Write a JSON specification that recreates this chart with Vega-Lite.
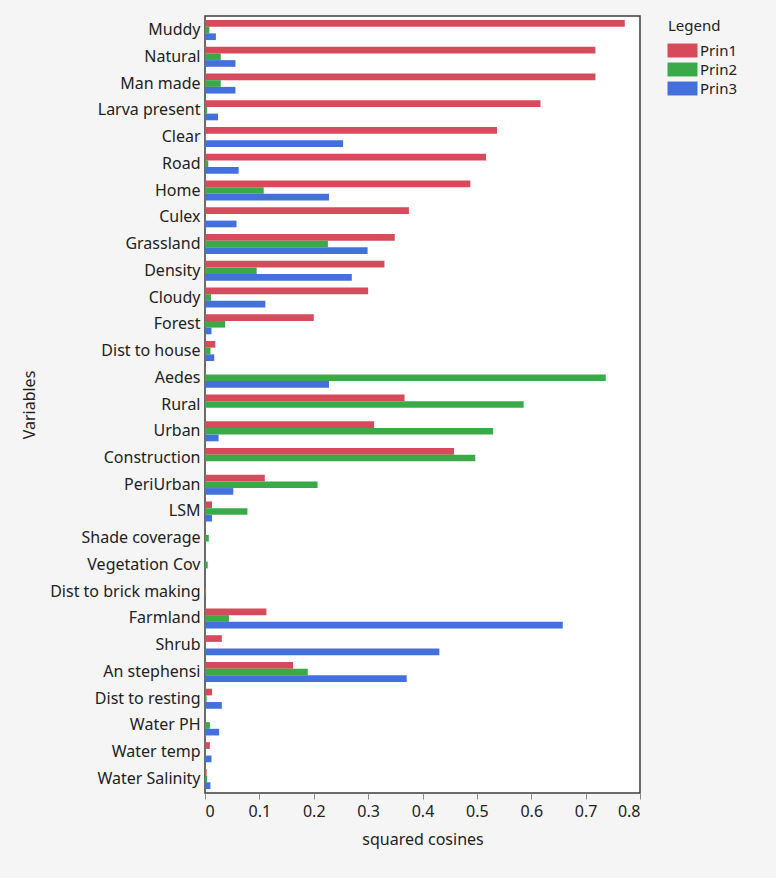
{
  "$schema": "https://vega.github.io/schema/vega-lite/v6.json",
  "autosize": {"type": "none"},
  "width": 435,
  "height": 777,
  "padding": {"left": 205, "top": 16, "right": 136, "bottom": 85},
  "background": "#f5f5f5",
  "config": {
    "font": "Noto Sans",
    "view": {"fill": "white", "stroke": "#3c3c3c", "strokeWidth": 1.5},
    "axis": {"grid": false, "labelColor": "#222", "titleColor": "#222", "labelFontSize": 16, "titleFontSize": 16, "titleFontWeight": "normal", "domainColor": "#3c3c3c"}
  },
  "data": {
    "values": [
      {"var": "Muddy", "comp": "Prin1", "value": 0.772}, {"var": "Muddy", "comp": "Prin2", "value": 0.008}, {"var": "Muddy", "comp": "Prin3", "value": 0.02},
      {"var": "Natural", "comp": "Prin1", "value": 0.718}, {"var": "Natural", "comp": "Prin2", "value": 0.029}, {"var": "Natural", "comp": "Prin3", "value": 0.056},
      {"var": "Man made", "comp": "Prin1", "value": 0.718}, {"var": "Man made", "comp": "Prin2", "value": 0.029}, {"var": "Man made", "comp": "Prin3", "value": 0.056},
      {"var": "Larva present", "comp": "Prin1", "value": 0.617}, {"var": "Larva present", "comp": "Prin2", "value": 0.004}, {"var": "Larva present", "comp": "Prin3", "value": 0.024},
      {"var": "Clear", "comp": "Prin1", "value": 0.537}, {"var": "Clear", "comp": "Prin2", "value": 0.002}, {"var": "Clear", "comp": "Prin3", "value": 0.254},
      {"var": "Road", "comp": "Prin1", "value": 0.517}, {"var": "Road", "comp": "Prin2", "value": 0.006}, {"var": "Road", "comp": "Prin3", "value": 0.062},
      {"var": "Home", "comp": "Prin1", "value": 0.488}, {"var": "Home", "comp": "Prin2", "value": 0.108}, {"var": "Home", "comp": "Prin3", "value": 0.228},
      {"var": "Culex", "comp": "Prin1", "value": 0.375}, {"var": "Culex", "comp": "Prin2", "value": 0.0}, {"var": "Culex", "comp": "Prin3", "value": 0.058},
      {"var": "Grassland", "comp": "Prin1", "value": 0.349}, {"var": "Grassland", "comp": "Prin2", "value": 0.226}, {"var": "Grassland", "comp": "Prin3", "value": 0.299},
      {"var": "Density", "comp": "Prin1", "value": 0.33}, {"var": "Density", "comp": "Prin2", "value": 0.095}, {"var": "Density", "comp": "Prin3", "value": 0.27},
      {"var": "Cloudy", "comp": "Prin1", "value": 0.3}, {"var": "Cloudy", "comp": "Prin2", "value": 0.011}, {"var": "Cloudy", "comp": "Prin3", "value": 0.111},
      {"var": "Forest", "comp": "Prin1", "value": 0.2}, {"var": "Forest", "comp": "Prin2", "value": 0.037}, {"var": "Forest", "comp": "Prin3", "value": 0.012},
      {"var": "Dist to house", "comp": "Prin1", "value": 0.019}, {"var": "Dist to house", "comp": "Prin2", "value": 0.01}, {"var": "Dist to house", "comp": "Prin3", "value": 0.017},
      {"var": "Aedes", "comp": "Prin1", "value": 0.001}, {"var": "Aedes", "comp": "Prin2", "value": 0.737}, {"var": "Aedes", "comp": "Prin3", "value": 0.228},
      {"var": "Rural", "comp": "Prin1", "value": 0.367}, {"var": "Rural", "comp": "Prin2", "value": 0.586}, {"var": "Rural", "comp": "Prin3", "value": 0.0},
      {"var": "Urban", "comp": "Prin1", "value": 0.311}, {"var": "Urban", "comp": "Prin2", "value": 0.53}, {"var": "Urban", "comp": "Prin3", "value": 0.025},
      {"var": "Construction", "comp": "Prin1", "value": 0.458}, {"var": "Construction", "comp": "Prin2", "value": 0.497}, {"var": "Construction", "comp": "Prin3", "value": 0.0},
      {"var": "PeriUrban", "comp": "Prin1", "value": 0.11}, {"var": "PeriUrban", "comp": "Prin2", "value": 0.207}, {"var": "PeriUrban", "comp": "Prin3", "value": 0.052},
      {"var": "LSM", "comp": "Prin1", "value": 0.013}, {"var": "LSM", "comp": "Prin2", "value": 0.078}, {"var": "LSM", "comp": "Prin3", "value": 0.013},
      {"var": "Shade coverage", "comp": "Prin1", "value": 0.0}, {"var": "Shade coverage", "comp": "Prin2", "value": 0.007}, {"var": "Shade coverage", "comp": "Prin3", "value": 0.0},
      {"var": "Vegetation Cov", "comp": "Prin1", "value": 0.0}, {"var": "Vegetation Cov", "comp": "Prin2", "value": 0.005}, {"var": "Vegetation Cov", "comp": "Prin3", "value": 0.0},
      {"var": "Dist to brick making", "comp": "Prin1", "value": 0.0}, {"var": "Dist to brick making", "comp": "Prin2", "value": 0.002}, {"var": "Dist to brick making", "comp": "Prin3", "value": 0.0},
      {"var": "Farmland", "comp": "Prin1", "value": 0.113}, {"var": "Farmland", "comp": "Prin2", "value": 0.044}, {"var": "Farmland", "comp": "Prin3", "value": 0.658},
      {"var": "Shrub", "comp": "Prin1", "value": 0.031}, {"var": "Shrub", "comp": "Prin2", "value": 0.0}, {"var": "Shrub", "comp": "Prin3", "value": 0.431},
      {"var": "An stephensi", "comp": "Prin1", "value": 0.162}, {"var": "An stephensi", "comp": "Prin2", "value": 0.189}, {"var": "An stephensi", "comp": "Prin3", "value": 0.371},
      {"var": "Dist to resting", "comp": "Prin1", "value": 0.013}, {"var": "Dist to resting", "comp": "Prin2", "value": 0.003}, {"var": "Dist to resting", "comp": "Prin3", "value": 0.031},
      {"var": "Water PH", "comp": "Prin1", "value": 0.0}, {"var": "Water PH", "comp": "Prin2", "value": 0.009}, {"var": "Water PH", "comp": "Prin3", "value": 0.026},
      {"var": "Water temp", "comp": "Prin1", "value": 0.009}, {"var": "Water temp", "comp": "Prin2", "value": 0.0}, {"var": "Water temp", "comp": "Prin3", "value": 0.012},
      {"var": "Water Salinity", "comp": "Prin1", "value": 0.003}, {"var": "Water Salinity", "comp": "Prin2", "value": 0.004}, {"var": "Water Salinity", "comp": "Prin3", "value": 0.01}
    ]
  },
  "mark": {"type": "bar", "stroke": null},
  "encoding": {
    "y": {
      "field": "var", "type": "nominal",
      "sort": ["Muddy","Natural","Man made","Larva present","Clear","Road","Home","Culex","Grassland","Density","Cloudy","Forest","Dist to house","Aedes","Rural","Urban","Construction","PeriUrban","LSM","Shade coverage","Vegetation Cov","Dist to brick making","Farmland","Shrub","An stephensi","Dist to resting","Water PH","Water temp","Water Salinity"],
      "scale": {"paddingInner": 0.25, "paddingOuter": 0.15},
      "axis": {"title": "Variables", "ticks": false, "labelPadding": 5, "titlePadding": 12, "domain": false}
    },
    "yOffset": {"field": "comp", "type": "nominal", "sort": ["Prin1","Prin2","Prin3"]},
    "x": {
      "field": "value", "type": "quantitative",
      "scale": {"domain": [0, 0.8], "nice": false},
      "axis": {"title": "squared cosines", "format": "~g", "values": [0,0.1,0.2,0.3,0.4,0.5,0.6,0.7,0.8], "tickColor": "#888", "tickSize": 6, "labelPadding": 4, "titlePadding": 12, "domain": false}
    },
    "color": {
      "field": "comp", "type": "nominal",
      "scale": {"domain": ["Prin1","Prin2","Prin3"], "range": ["#d74a5b","#3aaa48","#4470dc"]},
      "legend": {
        "title": "Legend", "orient": "none", "legendX": 463, "legendY": 3,
        "titleFontSize": 15, "titleFontWeight": "normal", "titleColor": "#222",
        "labelFontSize": 15, "labelColor": "#222",
        "symbolType": "M-2,-0.93H2V0.93H-2Z", "symbolSize": 225, "symbolStrokeWidth": 0, "symbolOffset": 7,
        "rowPadding": 3, "labelOffset": 10, "titlePadding": 9
      }
    }
  }
}
